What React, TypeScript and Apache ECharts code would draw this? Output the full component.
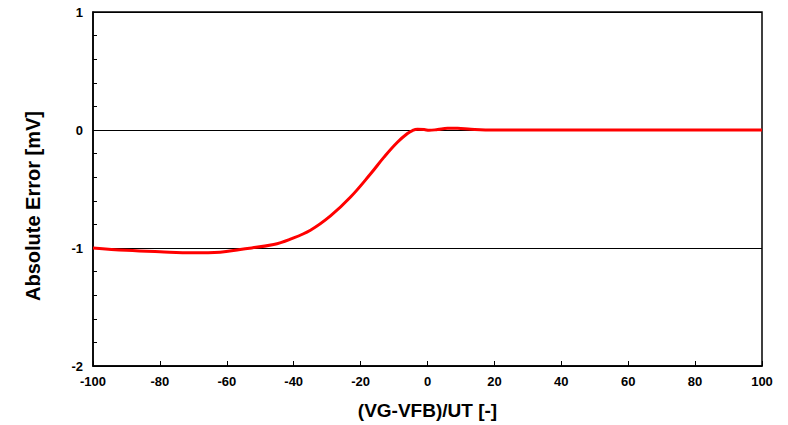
import React, { useEffect, useRef } from "react";
import * as echarts from "echarts";

const xValues = [-100, -90, -80, -70, -62, -56, -46, -41, -35, -29, -23, -17, -13, -9, -6, -4.5, -3, -1, 0.5, 3, 6, 9, 13, 20, 30, 50, 75, 100];
const yValues = [-1.0, -1.02, -1.032, -1.04, -1.035, -1.012, -0.97, -0.925, -0.849, -0.728, -0.568, -0.371, -0.23, -0.104, -0.03, -0.005, 0.006, 0.004, -0.003, 0.004, 0.015, 0.014, 0.006, 0, 0, 0, 0, 0];
const xTicks = { min: -100, max: 100, interval: 20 };
const yTicks = { min: -2, max: 1, interval: 1 };

export default function App() {
  const ref = useRef<HTMLDivElement>(null);
  useEffect(() => {
    if (!ref.current) return;
    const chart = echarts.init(ref.current, null, { renderer: "svg" });
    const font = "'Liberation Sans', Arial, sans-serif";
    chart.setOption({
      animation: false,
      backgroundColor: "#ffffff",
      grid: { left: 93, right: 26, top: 12, bottom: 57, show: true, borderColor: "#000", borderWidth: 1.5, backgroundColor: "transparent" },
      xAxis: {
        type: "value",
        min: xTicks.min,
        max: xTicks.max,
        interval: xTicks.interval,
        name: "(VG-VFB)/UT [-]",
        nameLocation: "middle",
        nameGap: 35,
        nameTextStyle: { fontFamily: font, fontWeight: "bold", fontSize: 19, color: "#000" },
        axisLine: { onZero: false, lineStyle: { color: "#000", width: 1.5 } },
        axisTick: { inside: true, length: 5, lineStyle: { color: "#000" } },
        axisLabel: { fontFamily: font, fontWeight: "bold", fontSize: 13, color: "#000", margin: 9 },
        splitLine: { show: false },
      },
      yAxis: {
        type: "value",
        min: yTicks.min,
        max: yTicks.max,
        interval: yTicks.interval,
        name: "Absolute Error [mV]",
        nameLocation: "middle",
        nameGap: 50,
        nameTextStyle: { fontFamily: font, fontWeight: "bold", fontSize: 20, color: "#000", padding: [0, 34, 0, 0] },
        axisLine: { onZero: false, lineStyle: { color: "#000", width: 1.5 } },
        axisTick: { inside: true, length: 4, lineStyle: { color: "#000" } },
        minorTick: { show: true, splitNumber: 5, length: 4, lineStyle: { color: "#000" } },
        axisLabel: { fontFamily: font, fontWeight: "bold", fontSize: 13, color: "#000", margin: 10 },
        splitLine: { show: true, lineStyle: { color: "#000", width: 1 } },
      },
      series: [
        {
          type: "line",
          data: xValues.map((x, i) => [x, yValues[i]]),
          smooth: 0.4,
          showSymbol: false,
          lineStyle: { color: "#ff0000", width: 3 },
          z: 5,
        },
      ],
    });
    return () => chart.dispose();
  }, []);
  return <div ref={ref} style={{ position: "fixed", left: 0, top: 0, width: 788, height: 425 }} />;
}
